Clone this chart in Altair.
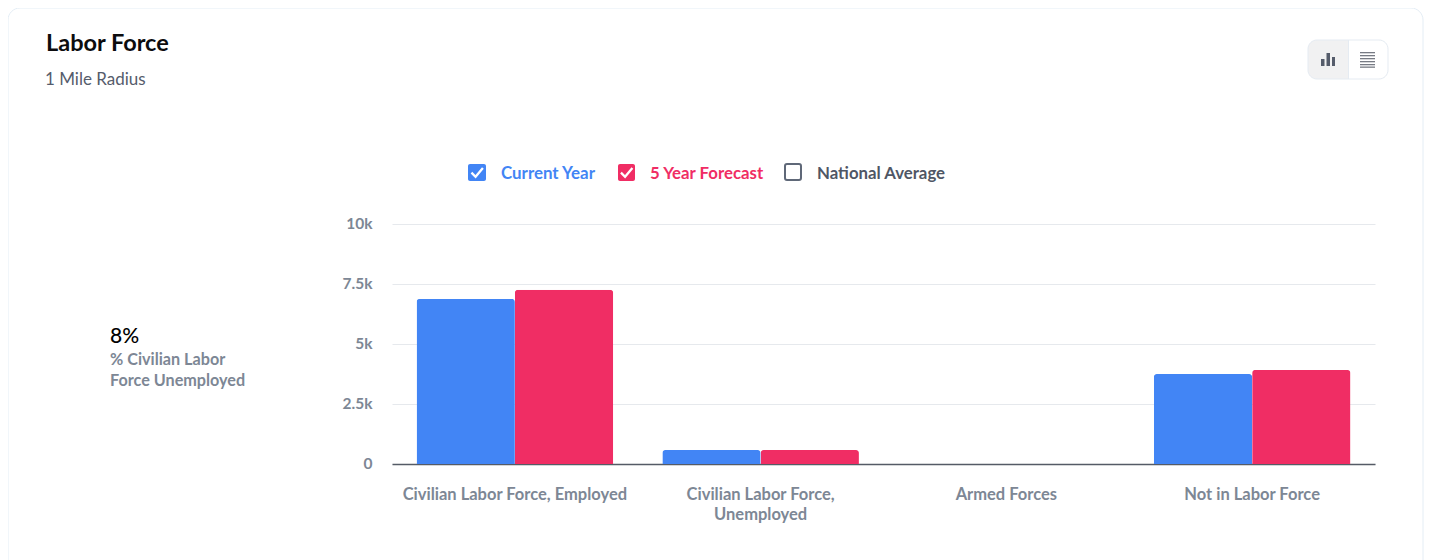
import altair as alt
import pandas as pd

FONT = "Lato"
OX, OY = 392, 224  # page position of the plot origin

categories = ["Civilian Labor Force, Employed", "Civilian Labor Force, Unemployed", "Armed Forces", "Not in Labor Force"]
current_year = [6880, 580, 5, 3750]
five_year = [7260, 580, 5, 3920]
series_names = ["Current Year", "5 Year Forecast"]
series_colors = ["#4285f5", "#f02d64"]
y_ticks = [0, 2500, 5000, 7500, 10000]

rows = []
for c, a, b in zip(categories, current_year, five_year):
    rows.append({"category": c, "series": series_names[0], "value": a})
    rows.append({"category": c, "series": series_names[1], "value": b})
df = pd.DataFrame(rows)
one = alt.Data(values=[{"a": 0}])


def rect(x1, y1, x2, y2, **kw):
    return alt.Chart(one).mark_rect(**kw).encode(
        x=alt.value(x1 - OX), x2=alt.value(x2 - OX), y=alt.value(y1 - OY), y2=alt.value(y2 - OY))


def label(s, x, y, size, color, weight=500, align="left"):
    return alt.Chart(one).mark_text(text=s, font=FONT, fontSize=size, color=color, fontWeight=weight,
                                    align=align, baseline="alphabetic").encode(
        x=alt.value(x - OX), y=alt.value(y - OY))


def check(x, y):
    return alt.Chart(one).mark_point(shape="M -0.62 0.02 L -0.16 0.48 L 0.66 -0.5", filled=False, stroke="white",
                                     strokeWidth=2.3, opacity=1, size=320).encode(
        x=alt.value(x - OX), y=alt.value(y - OY))


bars = alt.Chart(alt.Data(values=df.to_dict("records"))).mark_bar(cornerRadiusTopLeft=3, cornerRadiusTopRight=3).encode(
    x=alt.X("category:N", sort=categories, title=None,
            scale=alt.Scale(paddingInner=0.2, paddingOuter=0.1),
            axis=alt.Axis(labelAngle=0, ticks=False, grid=False, domain=True, domainColor="#555b66", domainWidth=1.5,
                          labelFont=FONT, labelFontSize=16.5, labelFontWeight=700, labelColor="#7d8795",
                          labelPadding=22, labelLineHeight=20, labelLimit=400,
                          labelExpr="datum.label == 'Civilian Labor Force, Unemployed' ? ['Civilian Labor Force,', 'Unemployed'] : datum.label")),
    xOffset=alt.XOffset("series:N", sort=series_names),
    y=alt.Y("value:Q", title=None, scale=alt.Scale(domain=[0, 10000]),
            axis=alt.Axis(values=y_ticks, ticks=False, domain=False, grid=True, gridColor="#e6e9ed", gridWidth=1,
                          labelFont=FONT, labelFontSize=15.5, labelFontWeight=700, labelColor="#7d8795",
                          labelPadding=20, labelOffset=-1,
                          labelExpr="datum.value == 0 ? '0' : (datum.value / 1000) + 'k'")),
    color=alt.Color("series:N", scale=alt.Scale(domain=series_names, range=series_colors), legend=None),
)

layers = [
    bars,
    # card
    rect(8, 8, 1423, 640, fill="transparent", stroke="#e4edf5", strokeWidth=1, cornerRadius=12),
    # titles
    label("Labor Force", 46, 51, 23.5, "#0c0c0e", 700),
    label("1 Mile Radius", 45, 85, 17, "#555c6c", 400),
    label("8%", 110, 343, 21, "#000000", 500),
    label("% Civilian Labor", 110, 365, 16.2, "#7d8795", 700),
    label("Force Unemployed", 110, 386, 16.2, "#7d8795", 700),
    # legend
    rect(468, 164, 486, 181, fill=series_colors[0], cornerRadius=2),
    check(477, 172.5),
    label("Current Year", 501, 179, 16.9, series_colors[0], 700),
    rect(618, 164, 635, 181, fill=series_colors[1], cornerRadius=2),
    check(626.5, 172.5),
    label("5 Year Forecast", 650, 179, 16.8, series_colors[1], 700),
    rect(785, 164, 801, 180, fill="white", stroke="#5f6878", strokeWidth=2, cornerRadius=2),
    label("National Average", 817, 179, 16.8, "#4f5665", 700),
    # toggle
    rect(1308, 40, 1348, 79, fill="#f1f1f2", cornerRadiusTopLeft=9, cornerRadiusBottomLeft=9),
    rect(1308, 40, 1388, 79, fill="transparent", stroke="#e5ebf2", strokeWidth=1, cornerRadius=9),
    rect(1348, 40, 1349, 79, fill="#e5ebf2"),
    rect(1321, 59, 1324.5, 66, fill="#555c6b"),
    rect(1326.5, 53, 1330, 66, fill="#555c6b"),
    rect(1332, 57, 1335, 66, fill="#555c6b"),
]
for y in [52, 55, 58, 61, 64, 66.5]:
    layers.append(rect(1360, y, 1375, y + 1.3, fill="#777b84"))

chart = alt.layer(*layers).properties(
    width=983, height=240,
    padding={"left": OX - 8, "top": OY - 8, "right": 1416 - (OX - 8) - 983, "bottom": 552 - (OY - 8) - 240},
    autosize=alt.AutoSizeParams(type="none"),
    background="white",
).configure_view(stroke=None)

chart.save("out.html", embed_options={"renderer": "svg", "actions": False})
